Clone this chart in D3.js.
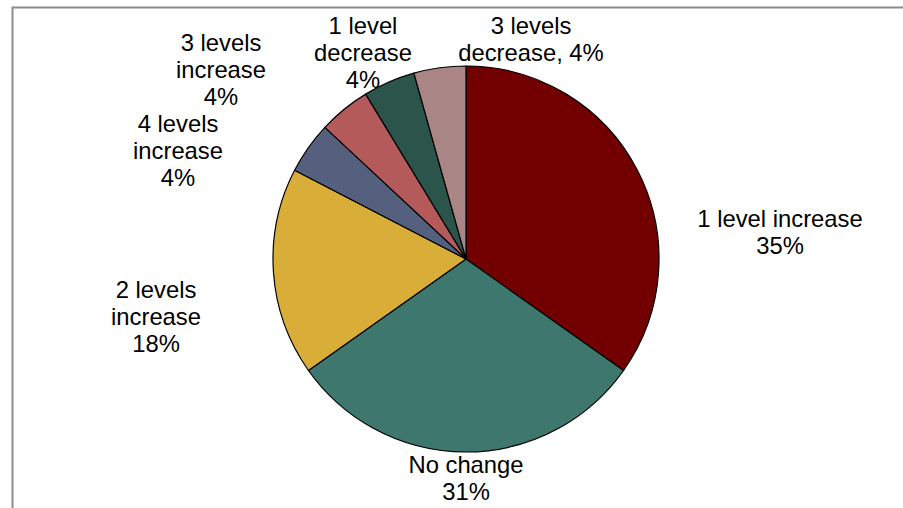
<!DOCTYPE html>
<html>
<head>
<meta charset="utf-8">
<script src="https://cdn.jsdelivr.net/npm/d3@7"></script>
<style>
  body { margin: 0; background: #fff; }
  svg text { font-family: "Liberation Sans", Arial, sans-serif; fill: #000; }
</style>
</head>
<body>
<div id="chart"></div>
<script>
// slices, clockwise from 12 o'clock
const categories = ["1 level increase", "No change", "2 levels increase", "4 levels increase",
                    "3 levels increase", "1 level decrease", "3 levels decrease"];
const shares = [34.8, 30.4, 17.4, 4.35, 4.35, 4.35, 4.35];
const pctLabels = ["35%", "31%", "18%", "4%", "4%", "4%", "4%"];
const labelLines = [
  ["1 level increase", "35%"],
  ["No change", "31%"],
  ["2 levels", "increase", "18%"],
  ["4 levels", "increase", "4%"],
  ["3 levels", "increase", "4%"],
  ["1 level", "decrease", "4%"],
  ["3 levels", "decrease, 4%"]
];

const colors = ["#720000", "#3e776d", "#d9ae38", "#55607f", "#b55a5a", "#2b554b", "#a98585"];

const width = 903, height = 508;
const cx = 466, cy = 259, radius = 193;
const fontSize = 23.8, lineGap = 26.8;

// first-line baseline position of each label, relative to the pie centre
const labelPos = [
  [314, -32], [0, 214], [-310, 39], [-288, -127], [-245, -208], [-103, -225], [65, -225]
];

const svg = d3.select("#chart").append("svg")
  .attr("width", width).attr("height", height);

// chart frame
svg.append("path")
  .attr("d", `M12.5,${height} V7.5 H${width}`)
  .attr("fill", "none")
  .attr("stroke", "#8c8c8c")
  .attr("stroke-width", 2);

const pie = d3.pie().sort(null).value(d => d);
const arc = d3.arc().innerRadius(0).outerRadius(radius);

const g = svg.append("g").attr("transform", `translate(${cx},${cy})`);

g.selectAll("path.slice")
  .data(pie(shares))
  .enter().append("path")
  .attr("class", "slice")
  .attr("d", arc)
  .attr("fill", (d, i) => colors[i])
  .attr("stroke", "#000")
  .attr("stroke-width", 1.2)
  .attr("stroke-linejoin", "round");

const labels = g.selectAll("text.lbl")
  .data(labelLines)
  .enter().append("text")
  .attr("class", "lbl")
  .attr("text-anchor", "middle")
  .style("font-size", fontSize + "px")
  .attr("x", (d, i) => labelPos[i][0])
  .attr("y", (d, i) => labelPos[i][1]);

labels.selectAll("tspan")
  .data((d, i) => d.map(t => ({ t: t, i: i })))
  .enter().append("tspan")
  .attr("x", d => labelPos[d.i][0])
  .attr("dy", (d, j) => j === 0 ? 0 : lineGap)
  .text(d => d.t);
</script>
</body>
</html>
